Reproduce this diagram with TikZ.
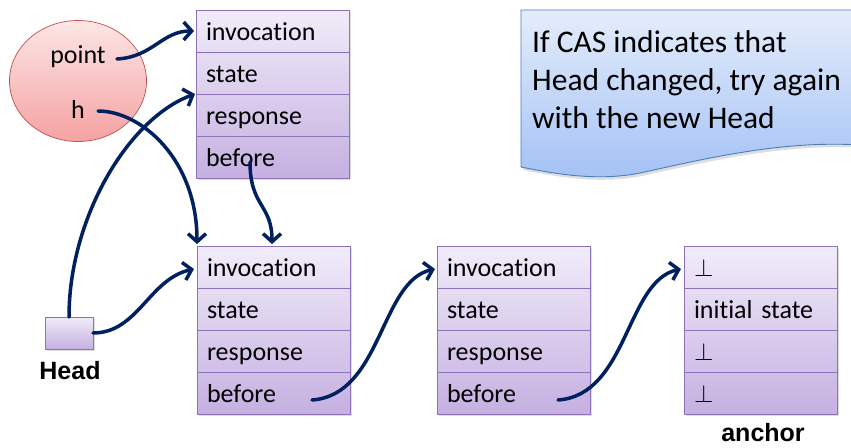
\documentclass[tikz,border=0pt]{standalone}
\usepackage{fontspec}
\setmainfont{Carlito}[Ligatures={NoCommon,NoContextual}]
\newfontfamily\labelfont{Liberation Sans}
\usetikzlibrary{arrows.meta,shapes.geometric}

\definecolor{ptrblue}{HTML}{002060}
\definecolor{recborder}{HTML}{8E72B8}
\definecolor{rectop}{HTML}{F1ECF9}
\definecolor{recbot}{HTML}{C5B0E1}
\definecolor{notetop}{HTML}{E4EDFB}
\definecolor{notebot}{HTML}{A3C1F5}
\definecolor{noteborder}{HTML}{4A7EBB}
\definecolor{balltop}{HTML}{FDE6E6}
\definecolor{ballbot}{HTML}{F5A2A2}
\definecolor{ballborder}{HTML}{C0504D}

\tikzset{
  ptr/.style={draw=ptrblue, line width=3.5pt, line cap=round,
    -{Straight Barb[length=8pt,width=18pt]}},
  row/.style={draw=recborder, line width=0.9pt, outer sep=0pt,
    inner xsep=10pt, inner ysep=0pt, minimum height=42pt,
    text width=133pt, align=left, text height=18pt, text depth=0pt,
    font=\fontsize{26}{30}\selectfont},
  softshadow/.style={fill=black, opacity=0.13},
  recfill/.style={top color=rectop, bottom color=recbot},
  plainlabel/.style={inner sep=0pt, font=\fontsize{26}{30}\selectfont},
  boldlabel/.style={inner sep=0pt, font=\labelfont\bfseries\fontsize{25}{30}\selectfont}
}

% a record of four stacked fields: name prefix, top-left x, y, field texts
\newcommand\drawrecord[7]{%
  \fill[softshadow] (#2+2,#3+2) rectangle (#2+155,#3+170);
  \shade[recfill] (#2,#3) rectangle (#2+153,#3+168);
  \node[row,anchor=north west] (#1a) at (#2,#3) {#4};
  \node[row,anchor=north] (#1b) at (#1a.south) {#5};
  \node[row,anchor=north] (#1c) at (#1b.south) {#6};
  \node[row,anchor=north] (#1d) at (#1c.south) {#7};
}

\begin{document}
\begin{tikzpicture}[x=1pt,y=-1pt]
\useasboundingbox (0,0) rectangle (851,447);

% note with wavy bottom edge
\fill[softshadow] (523,13) -- (862,13) -- (862,148) .. controls (782,143) and (702,163) .. (642,176)
  .. controls (602,184) and (562,178) .. (523,170) -- cycle;
\path[draw=noteborder, line width=0.9pt, top color=notetop, bottom color=notebot]
  (521,10) -- (860,10) -- (860,145) .. controls (780,140) and (700,160) .. (640,173)
  .. controls (600,181) and (560,175) .. (521,167) -- cycle;
\node[anchor=north west, inner sep=0pt, align=left, font=\fontsize{31.5}{38}\selectfont]
  (note) at (532,30) {If CAS indicates that\\Head changed, try again\\with the new Head};

% local variables
\node[ellipse, minimum width=137pt, minimum height=121pt, draw=ballborder, line width=0.7pt,
  top color=balltop, bottom color=ballbot] (ball) at (78,81) {};
\node[plainlabel] (pt) at (78,57) {point};
\node[plainlabel] (h) at (78,109) {h};

% shared head pointer
\fill[softshadow] (47,319) rectangle (95,351);
\node[draw=recborder, line width=0.9pt, recfill, minimum width=48pt, minimum height=32pt,
  outer sep=0pt, inner sep=0pt] (hd) at (69,333) {};
\node[boldlabel] (hdlab) at (70,371) {Head};

% records
\drawrecord{r0}{196}{10}{invocation}{state}{response}{before}
\drawrecord{r1}{197}{246}{invocation}{state}{response}{before}
\drawrecord{r2}{437}{246}{invocation}{state}{response}{before}
\drawrecord{r3}{684}{246}{$\perp$}{initial state}{$\perp$}{$\perp$}
\node[boldlabel] (anclab) at (763,433) {anchor};

% pointers
\draw[ptr] ([shift={(11,2)}]pt.east) .. controls +(36,-2) and +(-32,0) .. ([shift={(-2,0)}]r0a.west);
\draw[ptr] (hd.north) .. controls +(0,-100) and +(-66,24) .. ([shift={(-1,0)}]r0b.south west);
\draw[ptr] ([shift={(13,2)}]h.east) .. controls +(43,0) and +(0,-85) .. ([shift={(0,-2)}]r1a.north west);
\draw[ptr] ([shift={(54,5)}]r0d.west) .. controls +(0,45) and +(0,-40) .. ([shift={(75,-2)}]r1a.north west);
\draw[ptr] (hd.east) .. controls +(45,0) and +(-45,10) .. ([shift={(-3,2)}]r1a.west);
\draw[ptr] ([shift={(115,7)}]r1d.west) .. controls +(70,-5) and +(-55,12) .. ([shift={(-2,2)}]r2a.west);
\draw[ptr] ([shift={(121,7)}]r2d.west) .. controls +(70,-5) and +(-55,12) .. ([shift={(-3,2)}]r3a.west);
\end{tikzpicture}
\end{document}
